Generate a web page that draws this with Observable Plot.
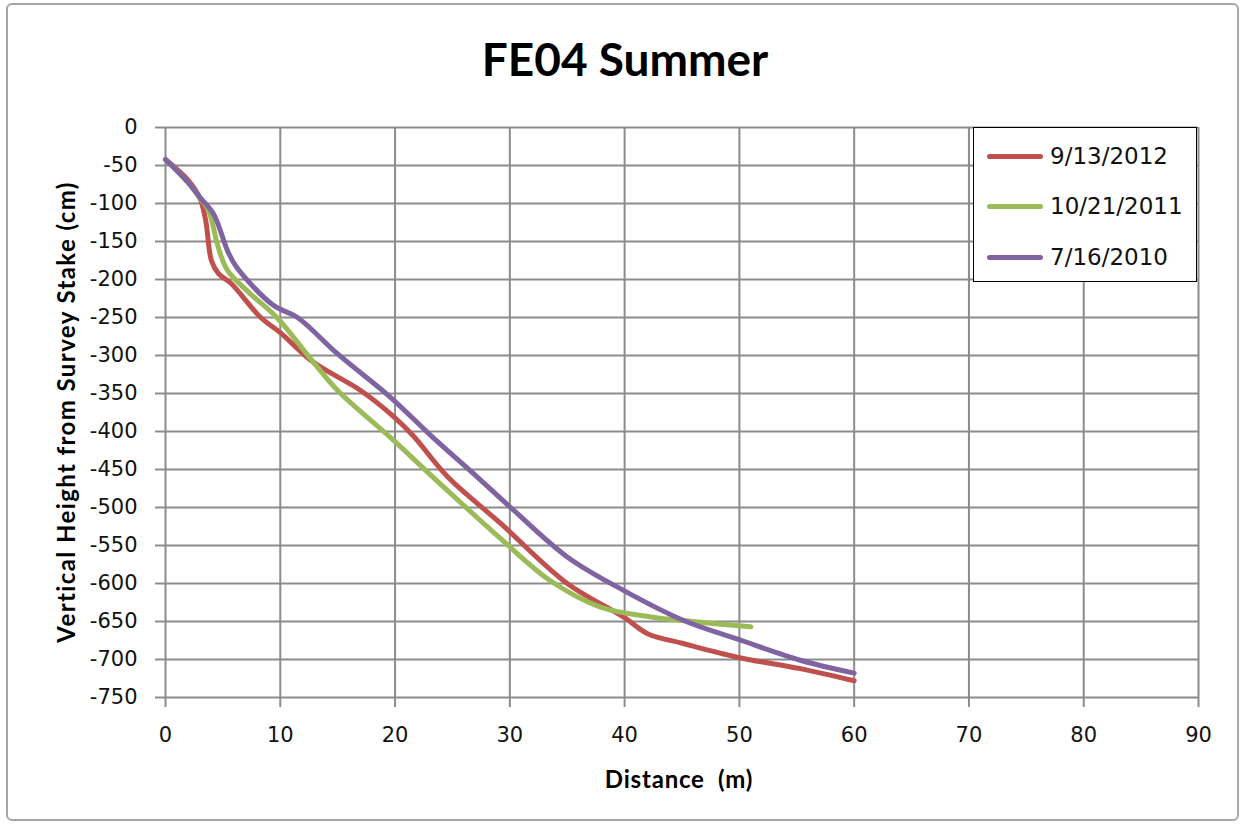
<!DOCTYPE html>
<html>
<head>
<meta charset="utf-8">
<script src="https://cdn.jsdelivr.net/npm/d3@7"></script>
<script src="https://cdn.jsdelivr.net/npm/@observablehq/plot@0.6"></script>
<style>
  html, body { margin: 0; padding: 0; background: #fff; }
  #wrap { position: relative; width: 1243px; height: 827px; overflow: hidden; background: #fff; }
  #frame { position: absolute; left: 6px; top: 3px; width: 1233px; height: 818px; border: 2px solid #a6a6a6; border-radius: 6px; box-sizing: border-box; }
  #chart { position: absolute; left: 0; top: 0; }
  #title { position: absolute; left: 0; width: 1250px; top: 32px; text-align: center; font-family: Lato, "Open Sans", sans-serif; font-weight: 700; font-size: 46px; line-height: 54px; color: #000; }
  #ylabel { position: absolute; left: 65px; top: 412px; transform: translate(-50%, -50%) rotate(-90deg); white-space: nowrap; font-family: Lato, sans-serif; font-weight: 700; font-size: 24px; letter-spacing: 1.4px; color: #000; }
  #xlabel { position: absolute; left: 679px; top: 778px; transform: translate(-50%, -50%); white-space: pre; font-family: Lato, sans-serif; font-weight: 700; font-size: 24px; letter-spacing: 0.8px; color: #000; }
  #legend { position: absolute; left: 973px; top: 127px; width: 224px; height: 155px; box-sizing: border-box; border: 1.5px solid #000; background: #fff; }
  .item { position: absolute; left: 13px; height: 30px; display: flex; align-items: center; font-family: "DejaVu Sans", Verdana, sans-serif; font-size: 23px; color: #111; white-space: nowrap; }
  .sw { width: 56px; height: 5px; border-radius: 3px; margin-right: 7px; }
</style>
</head>
<body>
<div id="wrap">
  <div id="frame"></div>
  <div id="chart"></div>
  <div id="title"></div>
  <div id="ylabel"></div>
  <div id="xlabel"></div>
  <div id="legend"></div>
</div>
<script>
// ---- data ----
const seriesNames = ["9/13/2012", "10/21/2011", "7/16/2010"];
const seriesColors = ["#c0504d", "#9bbb59", "#8064a2"];

const dist2012 = [0, 1, 2, 3, 3.5, 4, 4.6, 5.7, 8.3, 10, 12.9, 17, 20, 21.6, 24.6, 29.2, 35, 39.9, 42, 45.1, 49.8, 55.3, 60];
const height2012 = [-42, -55, -70, -93, -122, -175, -192, -205, -250, -270, -309, -346, -382, -406, -460, -521, -600, -644, -666, -679, -697, -712, -728];

const dist2011 = [0, 1, 2, 3, 3.75, 4.6, 5.4, 7.4, 9.7, 12.9, 15, 19.9, 23.3, 29.2, 33.5, 37.9, 42.3, 46.6, 51];
const height2011 = [-42, -57, -73, -93, -109, -158, -188, -219, -250, -309, -346, -412, -460, -541, -596, -631, -644, -651, -657];

const dist2010 = [0, 1, 2, 3, 4.2, 5.4, 6.2, 9.4, 11.5, 15, 19.6, 23.1, 27.1, 30, 35, 39.9, 45.2, 49.8, 55.3, 60];
const height2010 = [-42, -57, -73, -92, -114, -162, -184, -234, -250, -298, -355, -405, -459, -499, -565, -609, -649, -673, -701, -718];

const xTicks = [0, 10, 20, 30, 40, 50, 60, 70, 80, 90];
const yTicks = [0, -50, -100, -150, -200, -250, -300, -350, -400, -450, -500, -550, -600, -650, -700, -750];

const titleText = "FE04 Summer";
const xLabelText = "Distance  (m)";
const yLabelText = "Vertical Height from Survey Stake (cm)";

// ---- build ----
const seriesData = [[dist2012, height2012], [dist2011, height2011], [dist2010, height2010]];
const rows = seriesData.flatMap(([xs, ys], k) => xs.map((d, i) => ({series: seriesNames[k], dist: d, height: ys[i]})));

const gridColor = "#8c8c8c";
const chart = Plot.plot({
  width: 1243,
  height: 827,
  marginLeft: 165,
  marginRight: 45,
  marginTop: 127,
  marginBottom: 130,
  style: {fontFamily: "'DejaVu Sans', Verdana, sans-serif", fontSize: "21px", color: "#111", background: "transparent", overflow: "visible"},
  x: {domain: [0, 90]},
  y: {domain: [-750, 0]},
  color: {domain: seriesNames, range: seriesColors},
  marks: [
    Plot.gridX(xTicks, {stroke: gridColor, strokeOpacity: 1, strokeWidth: 2}),
    Plot.gridY(yTicks, {stroke: gridColor, strokeOpacity: 1, strokeWidth: 2}),
    Plot.axisX(xTicks, {tickSize: 10, tickPadding: 20, label: null, stroke: gridColor, strokeWidth: 2, tickFormat: d => String(d)}),
    Plot.axisY(yTicks, {tickSize: 10, tickPadding: 18, label: null, stroke: gridColor, strokeWidth: 2, tickFormat: d => String(d)}),
    Plot.line(rows, {x: "dist", y: "height", z: "series", stroke: "series", strokeWidth: 5, curve: "catmull-rom", strokeLinecap: "round", strokeLinejoin: "round"})
  ]
});
document.getElementById("chart").appendChild(chart);

document.getElementById("title").textContent = titleText;
document.getElementById("xlabel").textContent = xLabelText;
document.getElementById("ylabel").textContent = yLabelText;

const legend = document.getElementById("legend");
const rowTops = [13, 63, 114];
seriesNames.forEach((name, i) => {
  const item = document.createElement("div");
  item.className = "item";
  item.style.top = rowTops[i] + "px";
  const sw = document.createElement("div");
  sw.className = "sw";
  sw.style.background = seriesColors[i];
  const label = document.createElement("span");
  label.textContent = name;
  item.appendChild(sw);
  item.appendChild(label);
  legend.appendChild(item);
});
</script>
</body>
</html>
